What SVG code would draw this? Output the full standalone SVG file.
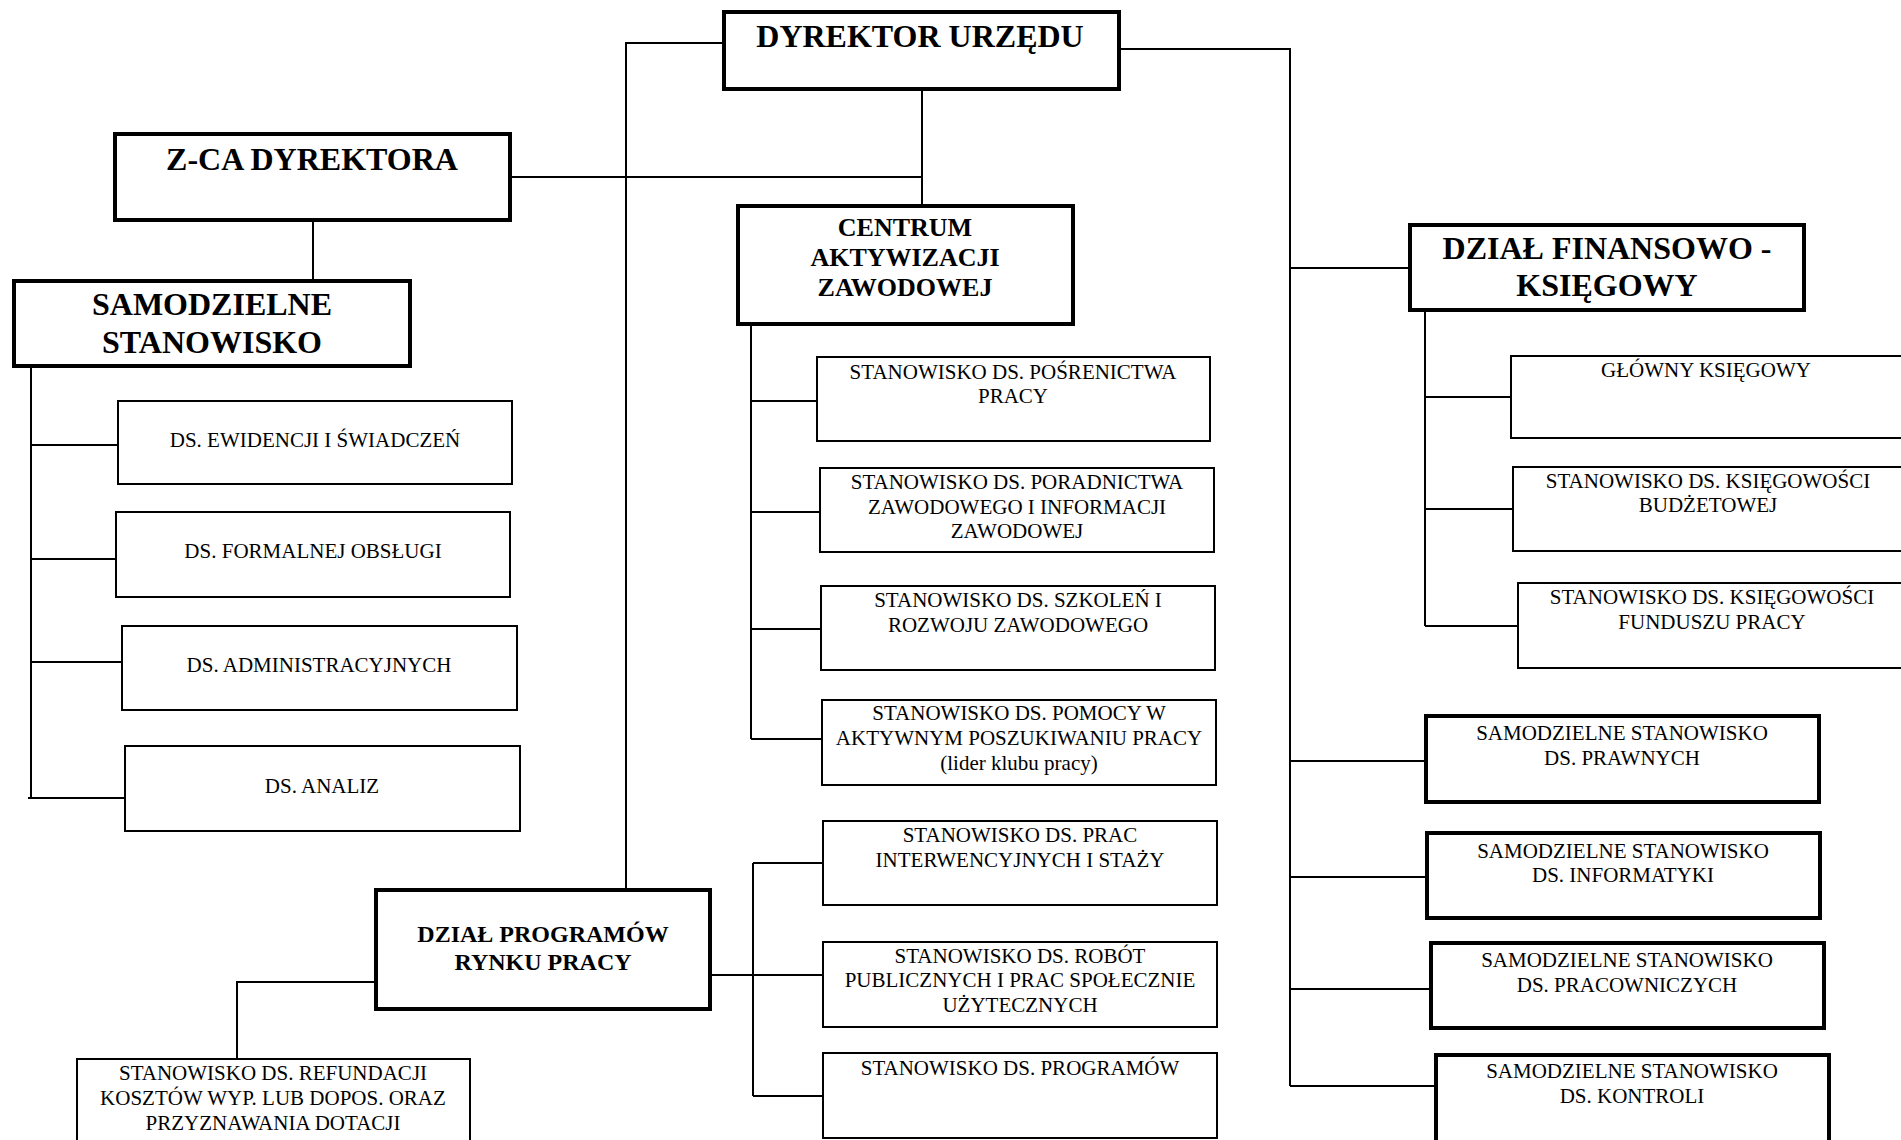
<svg xmlns="http://www.w3.org/2000/svg" width="1901" height="1140" viewBox="0 0 1901 1140">
<style>
.bx{fill:#fff;stroke:#000;stroke-width:2}
.tk{fill:#fff;stroke:#000;stroke-width:4}
.c{fill:none;stroke:#000;stroke-width:2}
text{font-family:"Liberation Serif","Times New Roman",serif;fill:#000;text-anchor:middle}
.h{font-weight:bold;font-size:32px}
.h2{font-weight:bold;font-size:26px}
.h3{font-weight:bold;font-size:24px}
.t{font-size:21px}
</style>
<rect width="1901" height="1140" fill="#fff"/>
<g id="connectors">
<polyline class="c" points="722,43 626,43 626,890"/>
<polyline class="c" points="1119,49 1290,49 1290,1086"/>
<line class="c" x1="922" y1="89" x2="922" y2="206"/>
<line class="c" x1="510" y1="177" x2="922" y2="177"/>
<line class="c" x1="313" y1="220" x2="313" y2="281"/>
<line class="c" x1="31" y1="366" x2="31" y2="798"/>
<line class="c" x1="31" y1="445" x2="118" y2="445"/>
<line class="c" x1="31" y1="559" x2="116" y2="559"/>
<line class="c" x1="31" y1="662" x2="122" y2="662"/>
<line class="c" x1="28" y1="798" x2="125" y2="798"/>
<line class="c" x1="751" y1="324" x2="751" y2="739"/>
<line class="c" x1="751" y1="401" x2="817" y2="401"/>
<line class="c" x1="751" y1="512" x2="820" y2="512"/>
<line class="c" x1="751" y1="629" x2="821" y2="629"/>
<line class="c" x1="751" y1="739" x2="822" y2="739"/>
<line class="c" x1="1290" y1="268" x2="1410" y2="268"/>
<line class="c" x1="1425" y1="310" x2="1425" y2="626"/>
<line class="c" x1="1425" y1="397" x2="1511" y2="397"/>
<line class="c" x1="1425" y1="509" x2="1513" y2="509"/>
<line class="c" x1="1425" y1="626" x2="1518" y2="626"/>
<line class="c" x1="1290" y1="761" x2="1426" y2="761"/>
<line class="c" x1="1290" y1="877" x2="1427" y2="877"/>
<line class="c" x1="1290" y1="989" x2="1431" y2="989"/>
<line class="c" x1="1290" y1="1086" x2="1436" y2="1086"/>
<polyline class="c" points="376,982 237,982 237,1059"/>
<line class="c" x1="710" y1="975" x2="753" y2="975"/>
<line class="c" x1="753" y1="863" x2="753" y2="1096"/>
<line class="c" x1="753" y1="863" x2="823" y2="863"/>
<line class="c" x1="753" y1="975" x2="823" y2="975"/>
<line class="c" x1="753" y1="1096" x2="823" y2="1096"/>
</g>
<g id="dyrektor"><rect class="tk" x="724" y="12" width="395" height="77"/><text class="h" x="920" y="47">DYREKTOR URZĘDU</text></g>
<g id="zca"><rect class="tk" x="115" y="134" width="395" height="86"/><text class="h" x="312" y="170">Z-CA DYREKTORA</text></g>
<g id="samodzielne"><rect class="tk" x="14" y="281" width="396" height="85"/><text class="h" x="212" y="315">SAMODZIELNE</text><text class="h" x="212" y="353">STANOWISKO</text></g>
<g id="ewidencji"><rect class="bx" x="118" y="401" width="394" height="83"/><text class="t" x="315" y="447">DS. EWIDENCJI I ŚWIADCZEŃ</text></g>
<g id="formalnej"><rect class="bx" x="116" y="512" width="394" height="85"/><text class="t" x="313" y="558">DS. FORMALNEJ OBSŁUGI</text></g>
<g id="administracyjnych"><rect class="bx" x="122" y="626" width="395" height="84"/><text class="t" x="319" y="672">DS. ADMINISTRACYJNYCH</text></g>
<g id="analiz"><rect class="bx" x="125" y="746" width="395" height="85"/><text class="t" x="322" y="793">DS. ANALIZ</text></g>
<g id="centrum"><rect class="tk" x="738" y="206" width="335" height="118"/><text class="h2" x="905" y="236">CENTRUM</text><text class="h2" x="905" y="266">AKTYWIZACJI</text><text class="h2" x="905" y="296">ZAWODOWEJ</text></g>
<g id="posrednictwa"><rect class="bx" x="817" y="357" width="393" height="84"/><text class="t" x="1013" y="379">STANOWISKO DS. POŚRENICTWA</text><text class="t" x="1013" y="403">PRACY</text></g>
<g id="poradnictwa"><rect class="bx" x="820" y="468" width="394" height="84"/><text class="t" x="1017" y="489">STANOWISKO DS. PORADNICTWA</text><text class="t" x="1017" y="514">ZAWODOWEGO I INFORMACJI</text><text class="t" x="1017" y="538">ZAWODOWEJ</text></g>
<g id="szkolen"><rect class="bx" x="821" y="586" width="394" height="84"/><text class="t" x="1018" y="607">STANOWISKO DS. SZKOLEŃ I</text><text class="t" x="1018" y="632">ROZWOJU ZAWODOWEGO</text></g>
<g id="pomocy"><rect class="bx" x="822" y="700" width="394" height="85"/><text class="t" x="1019" y="720">STANOWISKO DS. POMOCY W</text><text class="t" x="1019" y="745">AKTYWNYM POSZUKIWANIU PRACY</text><text class="t" x="1019" y="770">(lider klubu pracy)</text></g>
<g id="interwencyjnych"><rect class="bx" x="823" y="821" width="394" height="84"/><text class="t" x="1020" y="842">STANOWISKO DS. PRAC</text><text class="t" x="1020" y="867">INTERWENCYJNYCH I STAŻY</text></g>
<g id="robot"><rect class="bx" x="823" y="942" width="394" height="85"/><text class="t" x="1020" y="963">STANOWISKO DS. ROBÓT</text><text class="t" x="1020" y="987">PUBLICZNYCH I PRAC SPOŁECZNIE</text><text class="t" x="1020" y="1012">UŻYTECZNYCH</text></g>
<g id="programow"><rect class="bx" x="823" y="1053" width="394" height="85"/><text class="t" x="1020" y="1075">STANOWISKO DS. PROGRAMÓW</text></g>
<g id="dzial-programow"><rect class="tk" x="376" y="890" width="334" height="119"/><text class="h3" x="543" y="942">DZIAŁ PROGRAMÓW</text><text class="h3" x="543" y="970">RYNKU PRACY</text></g>
<g id="refundacji"><rect class="bx" x="77" y="1059" width="393" height="90"/><text class="t" x="273" y="1080">STANOWISKO DS. REFUNDACJI</text><text class="t" x="273" y="1105">KOSZTÓW WYP. LUB DOPOS. ORAZ</text><text class="t" x="273" y="1130">PRZYZNAWANIA DOTACJI</text></g>
<g id="dzial-finansowy"><rect class="tk" x="1410" y="225" width="394" height="85"/><text class="h" x="1607" y="259">DZIAŁ FINANSOWO -</text><text class="h" x="1607" y="296">KSIĘGOWY</text></g>
<g id="glowny"><rect class="bx" x="1511" y="356" width="400" height="82"/><text class="t" x="1706" y="377">GŁÓWNY KSIĘGOWY</text></g>
<g id="budzetowej"><rect class="bx" x="1513" y="467" width="400" height="84"/><text class="t" x="1708" y="488">STANOWISKO DS. KSIĘGOWOŚCI</text><text class="t" x="1708" y="512">BUDŻETOWEJ</text></g>
<g id="funduszu"><rect class="bx" x="1518" y="583" width="400" height="85"/><text class="t" x="1712" y="604">STANOWISKO DS. KSIĘGOWOŚCI</text><text class="t" x="1712" y="629">FUNDUSZU PRACY</text></g>
<g id="prawnych"><rect class="tk" x="1426" y="716" width="393" height="86"/><text class="t" x="1622" y="740">SAMODZIELNE STANOWISKO</text><text class="t" x="1622" y="765">DS. PRAWNYCH</text></g>
<g id="informatyki"><rect class="tk" x="1427" y="833" width="393" height="85"/><text class="t" x="1623" y="858">SAMODZIELNE STANOWISKO</text><text class="t" x="1623" y="882">DS. INFORMATYKI</text></g>
<g id="pracowniczych"><rect class="tk" x="1431" y="943" width="393" height="85"/><text class="t" x="1627" y="967">SAMODZIELNE STANOWISKO</text><text class="t" x="1627" y="992">DS. PRACOWNICZYCH</text></g>
<g id="kontroli"><rect class="tk" x="1436" y="1055" width="393" height="95"/><text class="t" x="1632" y="1078">SAMODZIELNE STANOWISKO</text><text class="t" x="1632" y="1103">DS. KONTROLI</text></g>
</svg>
